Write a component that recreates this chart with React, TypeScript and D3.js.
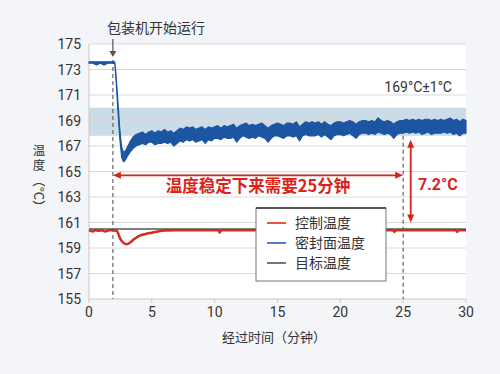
import React from 'react';
import * as d3 from 'd3';

// 密封面温度 (upper / lower edge of the noisy trace)
const blueTime = [0, 0.3, 0.6, 0.9, 1.2, 1.5, 1.8, 2.05, 2.15, 2.3, 2.45, 2.6, 2.75, 2.9, 3.05, 3.25, 3.5, 3.75,
  4.0, 4.25, 4.5, 4.75, 5.0, 5.25, 5.5, 5.75, 6.0, 6.25, 6.5, 6.75, 7.0, 7.25, 7.5, 7.75,
  8.0, 8.25, 8.5, 8.75, 9.0, 9.25, 9.5, 9.75, 10.0, 10.25, 10.5, 10.75, 11.0, 11.25, 11.5, 11.75,
  12.0, 12.25, 12.5, 12.75, 13.0, 13.25, 13.5, 13.75, 14.0, 14.25, 14.5, 14.75, 15.0, 15.25, 15.5, 15.75,
  16.0, 16.25, 16.5, 16.75, 17.0, 17.25, 17.5, 17.75, 18.0, 18.25, 18.5, 18.75, 19.0, 19.25, 19.5, 19.75,
  20.0, 20.25, 20.5, 20.75, 21.0, 21.25, 21.5, 21.75, 22.0, 22.25, 22.5, 22.75, 23.0, 23.25, 23.5, 23.75,
  24.0, 24.25, 24.5, 24.75, 25.0, 25.25, 25.5, 25.75, 26.0, 26.25, 26.5, 26.75, 27.0, 27.25, 27.5, 27.75,
  28.0, 28.25, 28.5, 28.75, 29.0, 29.25, 29.5, 29.75, 30.0];
const blueUpper = [173.6, 173.6, 173.6, 173.6, 173.6, 173.6, 173.6, 173.6, 172.6, 170.5, 168.3, 166.9, 166.5, 166.6, 166.9, 167.3, 167.7, 167.9,
  168.0, 168.1, 167.9, 168.1, 168.2, 168.0, 168.2, 168.1, 168.3, 168.1, 168.2, 168.0,
  168.2, 168.4, 168.3, 168.5, 168.4, 168.5, 168.3, 168.4, 168.5, 168.3, 168.5, 168.4,
  168.5, 168.6, 168.4, 168.6, 168.5, 168.6, 168.7, 168.4, 168.6, 168.7, 168.8, 168.6,
  168.7, 168.6, 168.7, 168.8, 168.6, 168.4, 168.6, 168.7, 168.8, 168.7, 168.6, 168.8,
  168.8, 168.7, 168.9, 168.5, 168.7, 168.9, 168.8, 168.9, 168.8, 168.9, 168.7, 168.9,
  168.7, 168.6, 168.8, 168.9, 168.9, 168.8, 168.9, 169.0, 168.9, 168.7, 168.9, 169.0,
  169.0, 168.9, 169.0, 168.9, 169.2, 169.0, 168.9, 169.0, 168.9, 168.7, 168.9, 169.0,
  169.0, 169.1, 169.0, 169.1, 169.0, 169.1, 169.0, 169.1, 169.1, 169.0, 169.1, 169.0,
  169.1, 169.0, 169.1, 169.2, 169.0, 169.1, 168.9, 169.1, 169.0];
const blueLower = [173.5, 173.5, 173.35, 173.5, 173.35, 173.5, 173.5, 173.45, 172.2, 169.8, 167.6, 166.1, 165.75, 165.9, 166.2, 166.5, 166.8, 167.0,
  167.1, 167.2, 167.1, 167.3, 167.3, 167.1, 167.2, 167.2, 167.3, 167.2, 167.3, 167.0,
  167.2, 167.4, 167.3, 167.5, 167.4, 167.5, 167.3, 167.4, 167.5, 167.2, 167.5, 167.4,
  167.6, 167.6, 167.5, 167.7, 167.6, 167.6, 167.7, 167.3, 167.6, 167.8, 167.7, 167.6,
  167.7, 167.6, 167.8, 167.7, 167.6, 167.3, 167.6, 167.8, 167.8, 167.7, 167.6, 167.8,
  167.8, 167.7, 167.8, 167.4, 167.8, 167.9, 167.8, 167.8, 167.8, 167.9, 167.7, 167.9,
  167.7, 167.5, 167.8, 167.9, 167.9, 167.8, 167.9, 168.0, 167.8, 167.6, 167.9, 168.0,
  168.0, 167.9, 168.0, 167.9, 168.1, 168.0, 167.9, 168.0, 167.9, 167.6, 167.9, 168.0,
  168.0, 168.1, 168.0, 168.1, 168.0, 168.1, 167.9, 168.0, 168.1, 167.9, 168.0, 168.0,
  168.0, 168.1, 168.0, 168.1, 167.9, 168.0, 167.8, 168.0, 168.0];

// 控制温度
const redTime = [0, 0.3, 0.5, 0.8, 1.0, 1.3, 1.6, 1.9, 2.2, 2.5, 2.75, 3.0, 3.3, 3.6, 4.0, 4.5, 5.0, 5.5, 6.0, 7.0,
  10.3, 10.4, 10.5, 15, 20, 24.2, 24.3, 24.4, 29.2, 29.3, 29.4, 30];
const redTemp = [160.4, 160.3, 160.4, 160.35, 160.4, 160.3, 160.4, 160.4, 160.35, 159.7, 159.4, 159.3, 159.45, 159.7, 159.95, 160.1, 160.2, 160.3, 160.38, 160.4,
  160.4, 160.2, 160.4, 160.4, 160.4, 160.4, 160.25, 160.4, 160.4, 160.25, 160.4, 160.4];

// 目标温度
const targetTemp = 160.5;

const yTicks = [155, 157, 159, 161, 163, 165, 167, 169, 171, 173, 175];
const xTicks = [0, 5, 10, 15, 20, 25, 30];
const bandRange = [167.8, 170];
const startTime = 1.9;
const stableTime = 25;

const legendItems = [
  { label: '控制温度', color: '#e0442f' },
  { label: '密封面温度', color: '#3b6fc4' },
  { label: '目标温度', color: '#6b6560' },
];

const RED = '#d8231b';
const FONT = "Roboto, 'Noto Sans CJK SC', sans-serif";
const CJK = "'Noto Sans CJK SC', sans-serif";

const App: React.FC = () => {
  const width = 500;
  const height = 374;
  const left = 89;
  const right = 466;
  const top = 44;
  const bottom = 299;

  const x = d3.scaleLinear().domain([0, 30]).range([left, right]);
  const y = d3.scaleLinear().domain([155, 175]).range([bottom, top]);

  const blueData = blueTime.map((t, i) => ({ t, u: blueUpper[i], l: blueLower[i] }));
  const blueArea = d3.area<{ t: number; u: number; l: number }>()
    .x(d => x(d.t))
    .y0(d => y(d.l))
    .y1(d => y(d.u))(blueData) || '';

  const redData = redTime.map((t, i) => [t, redTemp[i]] as [number, number]);
  const redLine = d3.line<[number, number]>()
    .x(d => x(d[0]))
    .y(d => y(d[1]))
    .curve(d3.curveMonotoneX)(redData) || '';

  const arrowY = y(164.7);
  const vx = x(25.6);
  const vTop = y(167.5);
  const vBot = y(161.0);

  return (
    <div style={{ position: 'fixed', left: 0, top: 0 }}>
      <svg width={width} height={height} style={{ display: 'block', fontFamily: FONT }}>
        <rect width={width} height={height} fill="#f3f5f8" />
        <rect x={left} y={top} width={right - left} height={bottom - top} fill="#ffffff" />

        {/* tolerance band */}
        <rect x={left} y={y(bandRange[1])} width={right - left} height={y(bandRange[0]) - y(bandRange[1])} fill="#c9dce8" />

        {/* gridlines */}
        {yTicks.map(v => (
          <line key={v} x1={left} x2={right} y1={y(v)} y2={y(v)} stroke={v === 155 ? '#c8c8c8' : '#d9d9d9'} strokeWidth={1} />
        ))}
        <line x1={left} x2={left} y1={top} y2={bottom} stroke="#c8c8c8" strokeWidth={1} />
        {xTicks.map(v => (
          <line key={v} x1={x(v)} x2={x(v)} y1={bottom} y2={bottom + 4} stroke="#c8c8c8" strokeWidth={1} />
        ))}

        {/* tick labels */}
        {yTicks.map(v => (
          <text key={v} x={81} y={y(v) + 5} textAnchor="end" fontSize={14} fill="#333">{v}</text>
        ))}
        {xTicks.map(v => (
          <text key={v} x={x(v)} y={317} textAnchor="middle" fontSize={14} fill="#333">{v}</text>
        ))}

        {/* axis titles */}
        <text x={274} y={342} textAnchor="middle" fontSize={13} fill="#333" fontFamily={CJK}>经过时间（分钟）</text>
        <text fontSize={12.5} fill="#333" fontFamily={CJK} textAnchor="middle">
          <tspan x={39} y={155}>温</tspan>
          <tspan x={39} y={170}>度</tspan>
        </text>
        <text transform="translate(34,174) rotate(90)" fontSize={13} fill="#333" fontFamily={CJK}>（°C）</text>

        {/* dashed markers */}
        <line x1={x(startTime)} x2={x(startTime)} y1={60} y2={bottom} stroke="#666" strokeWidth={1.2} strokeDasharray="4,3" />
        <line x1={x(stableTime)} x2={x(stableTime)} y1={y(167.8)} y2={bottom} stroke="#666" strokeWidth={1.2} strokeDasharray="4,3" />

        {/* target line */}
        <line x1={x(0)} x2={x(30)} y1={y(targetTemp)} y2={y(targetTemp)} stroke="#555" strokeWidth={1.5} />

        {/* control temperature */}
        <path d={redLine} fill="none" stroke="#d42a1c" strokeWidth={2.5} />

        {/* seal surface temperature */}
        <path d={blueArea} fill="#1c56a3" stroke="#1c56a3" strokeWidth={1.2} strokeLinejoin="round" />

        {/* start annotation */}
        <text x={156} y={33} textAnchor="middle" fontSize={14} fill="#333" fontFamily={CJK}>包装机开始运行</text>
        <line x1={x(startTime)} x2={x(startTime)} y1={39} y2={52} stroke="#555" strokeWidth={1.2} />
        <path d={`M${x(startTime) - 3.5},${51} L${x(startTime) + 3.5},${51} L${x(startTime)},${57} Z`} fill="#555" />

        {/* band label */}
        <text x={452} y={92} textAnchor="end" fontSize={14} fill="#333">169°C±1°C</text>

        {/* horizontal red arrow */}
        <line x1={x(startTime) + 6} x2={x(stableTime) - 6} y1={arrowY} y2={arrowY} stroke={RED} strokeWidth={1.6} />
        <path d={`M${x(startTime)},${arrowY} L${x(startTime) + 8},${arrowY - 3.5} L${x(startTime) + 8},${arrowY + 3.5} Z`} fill={RED} />
        <path d={`M${x(stableTime)},${arrowY} L${x(stableTime) - 8},${arrowY - 3.5} L${x(stableTime) - 8},${arrowY + 3.5} Z`} fill={RED} />
        <text x={258} y={192} textAnchor="middle" fontSize={16.5} fontWeight="bold" fill={RED} fontFamily={CJK}>温度稳定下来需要25分钟</text>

        {/* vertical red arrow */}
        <line x1={vx} x2={vx} y1={vTop + 6} y2={vBot - 6} stroke={RED} strokeWidth={1.8} />
        <path d={`M${vx},${vTop} L${vx - 3.5},${vTop + 8} L${vx + 3.5},${vTop + 8} Z`} fill={RED} />
        <path d={`M${vx},${vBot} L${vx - 3.5},${vBot - 8} L${vx + 3.5},${vBot - 8} Z`} fill={RED} />
        <text x={418} y={190} fontSize={16} fontWeight="bold" fill={RED}>7.2°C</text>

        {/* legend */}
        <g>
          <rect x={256} y={208} width={130} height={73} fill="#fff" stroke="#777" strokeWidth={1} />
          <line x1={256} x2={386} y1={208} y2={208} stroke="#333" strokeWidth={1.5} />
          {legendItems.map((it, i) => (
            <g key={it.label} transform={`translate(0,${223 + i * 20})`}>
              <line x1={267} x2={286} y1={0} y2={0} stroke={it.color} strokeWidth={1.8} />
              <text x={295} y={5} fontSize={14} fill="#333" fontFamily={CJK}>{it.label}</text>
            </g>
          ))}
        </g>
      </svg>
    </div>
  );
};

export default App;
